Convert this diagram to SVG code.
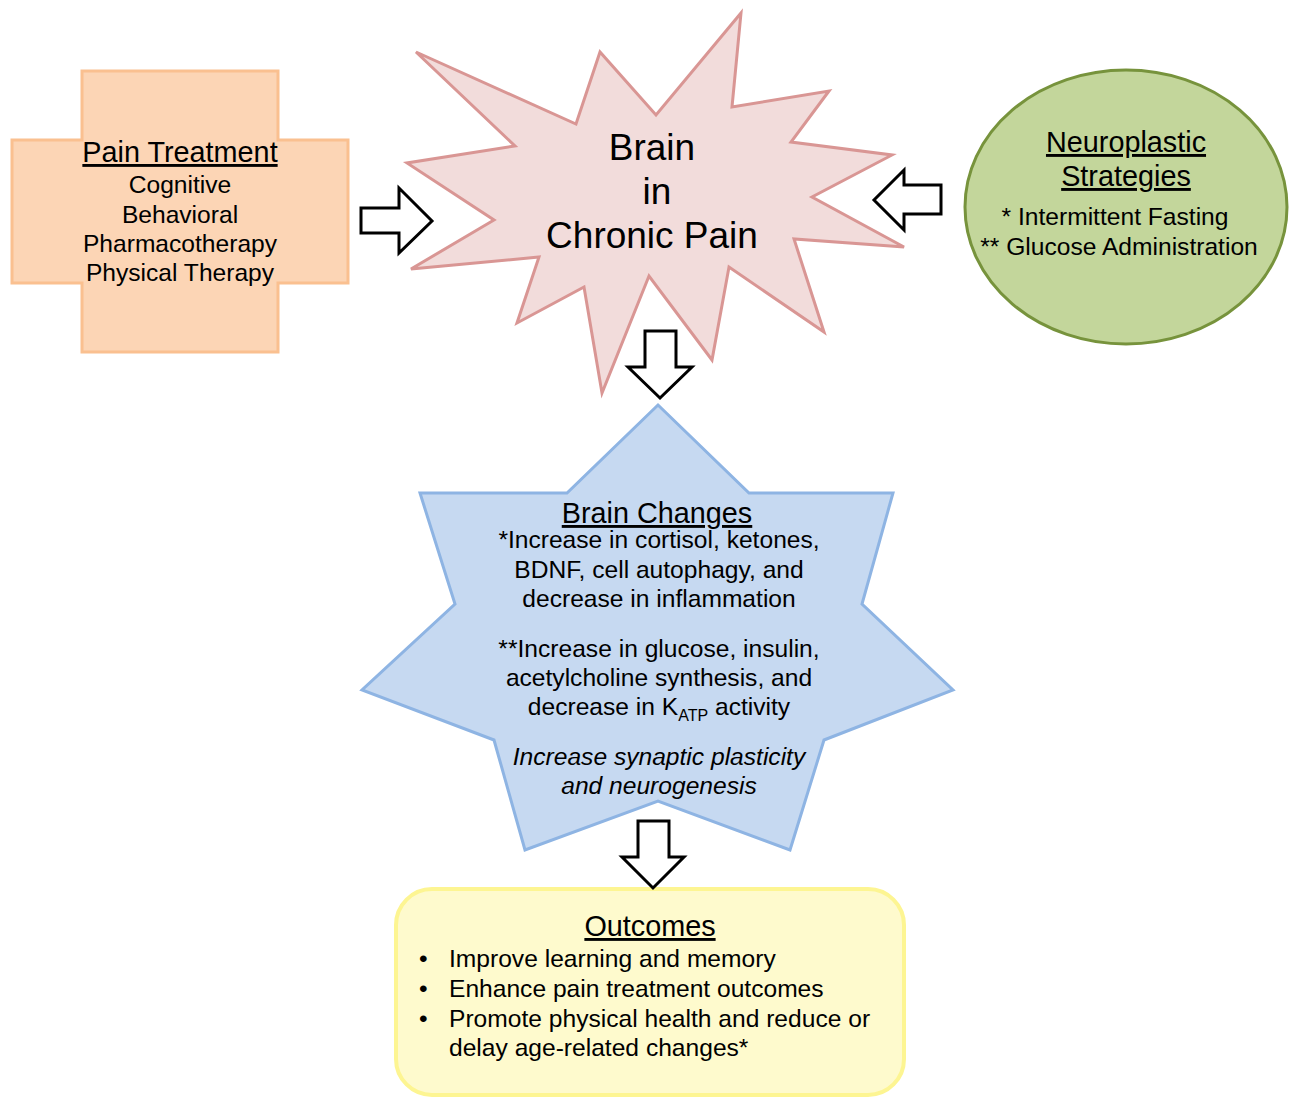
<svg xmlns="http://www.w3.org/2000/svg" width="1291" height="1098" viewBox="0 0 1291 1098">
<style>
text{font-family:"Liberation Sans",Arial,sans-serif;fill:#000;}
.t{font-size:28.8px;text-decoration:underline;text-anchor:middle;}
.b{font-size:24.6px;text-anchor:middle;}
.bl{font-size:24.6px;}
.big{font-size:37px;text-anchor:middle;}
.arr{fill:#fff;stroke:#000;stroke-width:3;stroke-linejoin:miter;}
</style>
<rect width="1291" height="1098" fill="#fff"/>
<g id="pain-treatment">
<path d="M82,71 H278 V140 H348 V283 H278 V352 H82 V283 H12 V140 H82 Z" fill="#fcd5b5" stroke="#fac090" stroke-width="3"/>
<text class="t" x="180" y="162">Pain Treatment</text>
<text class="b" x="180" y="193">Cognitive</text>
<text class="b" x="180" y="223">Behavioral</text>
<text class="b" x="180" y="252">Pharmacotherapy</text>
<text class="b" x="180" y="281">Physical Therapy</text>
</g>
<g id="brain-chronic-pain">
<polygon points="416,52 576,124 600,52 656,115 741,13 732,107 829,91 791,142 892,155 812,197 904,247 794,239 824,332 729,267 712,360 649,276 602,393 584,287 517,323 539,257 411,269 494,220 407,163 515,146" fill="#f2dcdb" stroke="#d99694" stroke-width="3" stroke-linejoin="miter"/>
<text class="big" x="652" y="160">Brain</text>
<text class="big" x="657" y="204">in</text>
<text class="big" x="652" y="248">Chronic Pain</text>
</g>
<g id="neuroplastic-strategies">
<ellipse cx="1126" cy="207" rx="161" ry="137" fill="#c3d69b" stroke="#77933c" stroke-width="3"/>
<text class="t" x="1126" y="152">Neuroplastic</text>
<text class="t" x="1126" y="186">Strategies</text>
<text class="b" x="1115" y="225">* Intermittent Fasting</text>
<text class="b" x="1119" y="255">** Glucose Administration</text>
</g>
<g id="brain-changes">
<polygon points="658,405 749,493 893,493 862,604 953,690 824,740 790,850 658,801 525,850 494,740 362,690 455,604 420,493 567,493" fill="#c6d9f1" stroke="#8eb4e3" stroke-width="3"/>
<text class="t" x="657" y="523">Brain Changes</text>
<text class="b" x="659" y="548">*Increase in cortisol, ketones,</text>
<text class="b" x="659" y="578">BDNF, cell autophagy, and</text>
<text class="b" x="659" y="607">decrease in inflammation</text>
<text class="b" x="659" y="657">**Increase in glucose, insulin,</text>
<text class="b" x="659" y="686">acetylcholine synthesis, and</text>
<text class="b" x="659" y="715">decrease in K<tspan font-size="16" dy="6">ATP</tspan><tspan dy="-6"> activity</tspan></text>
<text class="b" x="659" y="765" font-style="italic">Increase synaptic plasticity</text>
<text class="b" x="659" y="794" font-style="italic">and neurogenesis</text>
</g>
<g id="outcomes">
<rect x="396" y="889" width="508" height="206" rx="36" ry="36" fill="#fefacd" stroke="#fdf592" stroke-width="4"/>
<text class="t" x="650" y="936">Outcomes</text>
<text class="bl" x="419" y="967">•</text>
<text class="bl" x="449" y="967">Improve learning and memory</text>
<text class="bl" x="419" y="997">•</text>
<text class="bl" x="449" y="997">Enhance pain treatment outcomes</text>
<text class="bl" x="419" y="1027">•</text>
<text class="bl" x="449" y="1027">Promote physical health and reduce or</text>
<text class="bl" x="449" y="1056">delay age-related changes*</text>
</g>
<g id="connectors">
<polygon class="arr" points="361,208 399,208 399,188 432,221 399,253 399,233 361,233"/>
<polygon class="arr" points="941,185 904,185 904,170 874,200 904,230 904,214 941,214"/>
<polygon class="arr" points="645,331 676,331 676,367 692,367 660,398 628,367 645,367"/>
<polygon class="arr" points="638,821 669,821 669,857 684,857 653,888 622,857 638,857"/>
</g>
</svg>
